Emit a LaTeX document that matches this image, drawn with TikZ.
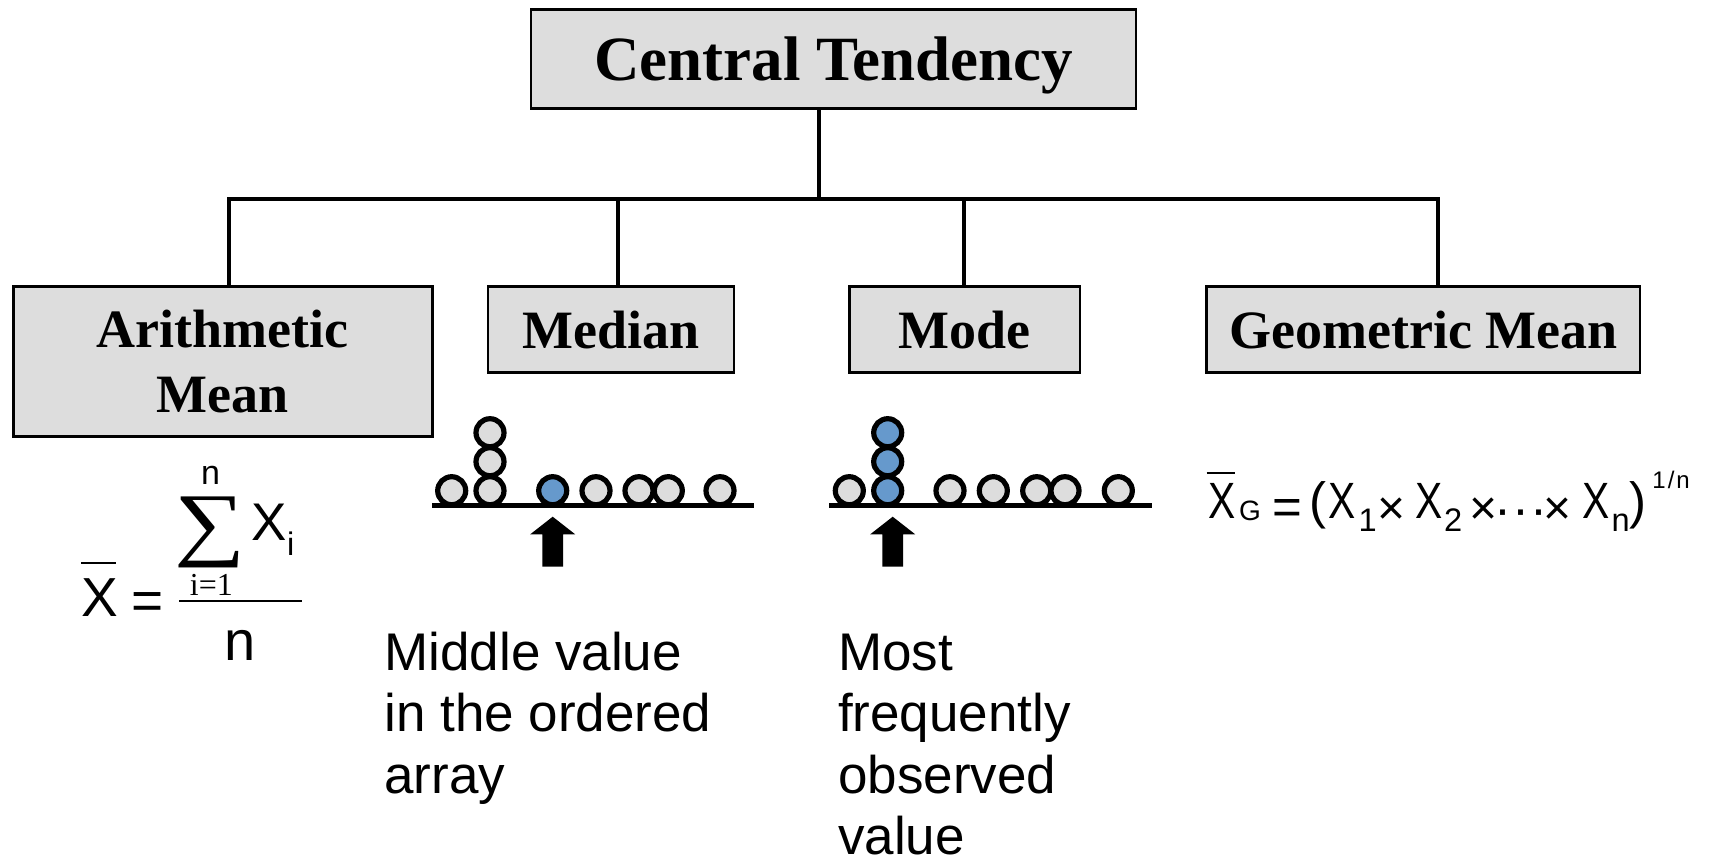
\documentclass[tikz,border=0pt]{standalone}
\usepackage{fontspec}
\setmainfont{Liberation Serif}
\setsansfont{Liberation Sans}
\newfontfamily\arialfam{Liberation Sans}
\usepackage{graphicx}
\usetikzlibrary{calc}
\definecolor{boxgrey}{RGB}{221,221,221}
\definecolor{ballblue}{RGB}{102,153,204}
\newcommand{\fsz}[2]{\fontsize{#1}{#2}\selectfont}
\newcommand{\lines}[1]{\parbox[t]{200pt}{\raggedright #1}}
\tikzset{
  catbox/.style={draw=black, line width=1.25pt, fill=boxgrey, inner sep=0pt, align=center, font=\bfseries\fsz{27pt}{32.5pt}},
  branch/.style={line width=2pt},
  ball/.style={circle, draw=black, line width=2.6pt, fill=boxgrey, minimum size=14pt, inner sep=0pt},
  axisline/.style={line width=2.75pt},
  caption/.style={anchor=base west, inner sep=0pt, font=\arialfam\fsz{26.5pt}{30.75pt}},
  sym/.style={inner sep=0pt, anchor=base},
  bigsym/.style={sym, font=\arialfam\fsz{25.5pt}{30pt}},
  opsym/.style={sym, font=\arialfam\fsz{24pt}{28pt}},
  bigx/.style={sym, anchor=base west, font=\arialfam\fsz{25.5pt}{30pt}},
  subsym/.style={sym, anchor=base west, font=\arialfam\fsz{16.3pt}{18pt}}
}
\begin{document}
\begin{tikzpicture}[x=0.5pt, y=-0.5pt]
    \useasboundingbox (0,0) rectangle (1733,864);

    % boxes of the tree
    \node[catbox, minimum width=302.4pt, minimum height=49.5pt, font=\bfseries\fsz{31.5pt}{36pt}, text depth=0pt] (top) at (833.6,58.8) {Central Tendency};
    \node[catbox, minimum width=209.5pt, minimum height=75pt] (am) at (222.8,361.7) {Arithmetic\\Mean};
    \node[catbox, minimum width=123pt, minimum height=43pt] (med) at (611,329.7) {Median};
    \node[catbox, minimum width=115.3pt, minimum height=43pt] (mode) at (964.7,329.7) {Mode};
    \node[catbox, minimum width=216.7pt, minimum height=43pt] (gm) at (1423.3,329.7) {Geometric Mean};

    % branches
    \coordinate (split) at (819.2,199.3);
    \coordinate (amdrop) at ([xshift=3.25pt]am.north);
    \coordinate (meddrop) at ([xshift=3.5pt]med.north);
    \coordinate (modedrop) at ([xshift=-0.5pt]mode.north);
    \coordinate (gmdrop) at ([xshift=7.35pt]gm.north);
    \draw[branch] (top.south -| split) -- (split);
    \draw[branch] (amdrop) |- (split) -| (gmdrop);
    \draw[branch] (meddrop) -- (meddrop |- split);
    \draw[branch] (modedrop) -- (modedrop |- split);

    % median data
    \draw[axisline] (432,505.3) -- (754,505.3);
    \foreach \bx [count=\i] in {451.7,490,596,639,668.3,720} {
        \node[ball] (med\i) at (\bx,490.7) {};};
    \node[ball] (medup1) at (490,461.7) {};
    \node[ball] (medup2) at (490,432.7) {};
    \node[ball, fill=ballblue] (medmid) at (552.7,490.7) {};

    % mode data
    \draw[axisline] (829,505.3) -- (1151.7,505.3);
    \foreach \bx [count=\i] in {849.3,950,993.3,1036.7,1065,1118.3} {
        \node[ball] (mode\i) at (\bx,490.7) {};};
    \foreach \by [count=\i] in {490.7,461.7,432.7} {
        \node[ball, fill=ballblue] (modeup\i) at (887.7,\by) {};};

    % pointers
    \foreach \ax in {552.7,892.7} {
        \fill (\ax-10.3,566.7) -- (\ax-10.3,534.3) -- (\ax-22.5,534.3) -- (\ax,516.7)
            -- (\ax+22.5,534.3) -- (\ax+10.3,534.3) -- (\ax+10.3,566.7) -- cycle;};

    \node[caption] (medtext) at (384,670) {\lines{Middle value\\in the ordered\\array}};
    \node[caption] (modetext) at (837.7,670) {\lines{Most\\frequently\\observed\\value}};

    % arithmetic mean formula
    \node[sym, anchor=base west, font=\arialfam\fsz{27.5pt}{30pt}] (amx) at (81.5,616) {X};
    \draw[line width=1pt] (81,562.7) -- (116,562.7);
    \node[sym, font=\arialfam\fsz{27.5pt}{30pt}] (ameq) at (148,619) {=};
    \draw[line width=1pt] (179,601.3) -- (302,601.3);
    \node[inner sep=0pt] (amsum) at (210,532.7) {\resizebox{35.6pt}{26.8pt}{∑}};
    \node[sym, font=\arialfam\fsz{17pt}{20pt}] (amtopn) at (210.5,484.3) {n};
    \node[sym, font=\fsz{16pt}{18pt}] (amfrom) at (211.4,595) {i=1};
    \node[sym, anchor=base west, font=\arialfam\fsz{26.5pt}{30pt}] (amxi) at (251.5,540) {X};
    \node[subsym] (ami) at (286.8,555) {i};
    \node[sym, font=\arialfam\fsz{28pt}{30pt}] (amn) at (240.5,660) {n};

    % geometric mean formula
    \node[bigx] (gmx) at (1208.3,518.3) {\scalebox{0.8}[1]{X}};
    \draw[line width=1pt] (1206.7,472.7) -- (1235,472.7);
    \node[sym, anchor=base west, font=\arialfam\fsz{14pt}{16pt}] (gmg) at (1238.7,520) {G};
    \node[bigsym] (gmeq) at (1287.5,524) {=};
    \node[bigsym] (gmopen) at (1318.3,518.3) {(};
    \node[bigx] (gmx1) at (1328.3,518.3) {\scalebox{0.8}[1]{X}};
    \node[subsym] (gmone) at (1358.2,531.7) {1};
    \node[opsym] (gmtimesa) at (1391.7,524) {×};
    \node[bigx] (gmx2) at (1415,518.3) {\scalebox{0.8}[1]{X}};
    \node[subsym] (gmtwo) at (1443.7,531.7) {2};
    \node[opsym] (gmtimesb) at (1483.3,524) {×};
    \node[bigsym] (gmdots) at (1520.8,526) {·\kern0.5pt·\kern0.5pt·};
    \node[opsym] (gmtimesc) at (1557.5,524) {×};
    \node[bigx] (gmxn) at (1581.7,518.3) {\scalebox{0.8}[1]{X}};
    \node[subsym] (gmn) at (1611.2,531.7) {n};
    \node[bigsym] (gmclose) at (1638.3,518.3) {)};
    \node[sym, anchor=base west, font=\arialfam\fsz{12pt}{14pt}] (gmexp) at (1652,488.3) {1\kern1pt/\kern1pt n};

\end{tikzpicture}
\end{document}
